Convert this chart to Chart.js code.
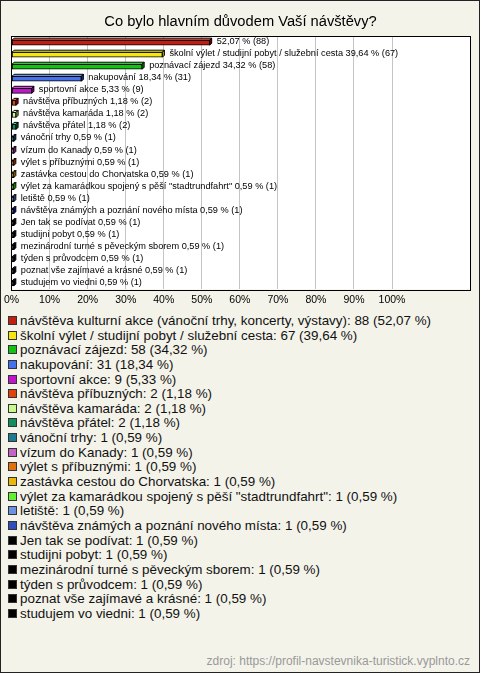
<!DOCTYPE html>
<html>
<head>
<meta charset="utf-8">
<script src="https://cdn.jsdelivr.net/npm/chart.js@4.4.0/dist/chart.umd.min.js"></script>
<style>
  html, body { margin: 0; padding: 0; background: #fff; }
  #frame {
    position: relative; width: 478px; height: 671px;
    border: 1px solid #222; background: #f4f3ea;
    font-family: "Liberation Sans", Arial, sans-serif;
  }
  #chartBox { position: absolute; left: -1px; top: -1px; width: 480px; height: 310px; }
  #legend { position: absolute; left: 7px; top: 313px; }
  .item { height: 14.65px; line-height: 14.65px; font-size: 13.4px; color: #111; white-space: nowrap; }
  .sw { display: inline-block; width: 7px; height: 7px; border: 1px solid #333; margin-right: 3px; vertical-align: 0px; }
  #source { position: absolute; right: 9px; top: 653px; font-size: 12px; color: #999; }
</style>
</head>
<body>
<div id="frame">
  <div id="chartBox"><canvas id="chart" width="480" height="310"></canvas></div>
  <div id="legend"></div>
  <div id="source">zdroj: https://profil-navstevnika-turistick.vyplnto.cz</div>
</div>
<script>
const chartTitle = 'Co bylo hlavním důvodem Vaší návštěvy?';

const categories = [
  'návštěva kulturní akce (vánoční trhy, koncerty, výstavy)',
  'školní výlet / studijní pobyt / služební cesta',
  'poznávací zájezd',
  'nakupování',
  'sportovní akce',
  'návštěva příbuzných',
  'návštěva kamaráda',
  'návštěva přátel',
  'vánoční trhy',
  'vízum do Kanady',
  'výlet s příbuznými',
  'zastávka cestou do Chorvatska',
  'výlet za kamarádkou spojený s pěší "stadtrundfahrt"',
  'letiště',
  'návštěva známých a poznání nového místa',
  'Jen tak se podívat',
  'studijni pobyt',
  'mezinárodní turné s pěveckým sborem',
  'týden s průvodcem',
  'poznat vše zajímavé a krásné',
  'studujem vo viedni'
];
const counts = [88, 67, 58, 31, 9, 2, 2, 2, 1, 1, 1, 1, 1, 1, 1, 1, 1, 1, 1, 1, 1];
const percents = [52.07, 39.64, 34.32, 18.34, 5.33, 1.18, 1.18, 1.18, 0.59, 0.59, 0.59, 0.59, 0.59, 0.59, 0.59, 0.59, 0.59, 0.59, 0.59, 0.59, 0.59];
const colors = [
  '#c41e10', '#f6e610', '#14c214', '#4472ee', '#c214cc', '#e2430e', '#c8f88e',
  '#10905e', '#1e7a90', '#c462c8', '#e2700e', '#e8b808', '#62f034', '#6a92e0',
  '#2e4ec0', '#000000', '#000000', '#000000', '#000000', '#000000', '#000000'
];
const xTicks = [0, 10, 20, 30, 40, 50, 60, 70, 80, 90, 100];

const fmt = v => v.toFixed(2).replace('.', ',');

function shade(hex, amt) {
  const n = parseInt(hex.slice(1), 16);
  const c = v => Math.max(0, Math.min(255, v + amt));
  return `rgb(${c(n >> 16)},${c((n >> 8) & 255)},${c(n & 255)})`;
}

// frame + white plot background
const plotFrame = {
  id: 'plotFrame',
  beforeDraw(chart) {
    const { ctx, chartArea: a } = chart;
    ctx.save();
    ctx.fillStyle = '#fff';
    ctx.fillRect(a.left, a.top, a.right - a.left, a.bottom - a.top);
    ctx.restore();
  },
  afterDraw(chart) {
    const { ctx, chartArea: a } = chart;
    ctx.save();
    ctx.strokeStyle = '#000';
    ctx.lineWidth = 1;
    ctx.strokeRect(Math.round(a.left) - 0.5, Math.round(a.top) - 0.5, Math.round(a.right - a.left) + 1, Math.round(a.bottom - a.top) + 1);
    ctx.restore();
  }
};

// 3d top/side of bars + value labels
const barDecor = {
  id: 'barDecor',
  afterDatasetsDraw(chart) {
    const { ctx, chartArea: a } = chart;
    const meta = chart.getDatasetMeta(0);
    const d = 2;
    ctx.save();
    ctx.lineWidth = 1;
    ctx.strokeStyle = '#000';
    meta.data.forEach((bar, i) => {
      const top = bar.y - bar.height / 2, bottom = bar.y + bar.height / 2;
      ctx.beginPath();
      ctx.moveTo(bar.base, top); ctx.lineTo(bar.base + d, top - d);
      ctx.lineTo(bar.x + d, top - d); ctx.lineTo(bar.x, top); ctx.closePath();
      ctx.fillStyle = shade(colors[i], 80);
      ctx.fill(); ctx.stroke();
      ctx.beginPath();
      ctx.moveTo(bar.x, top); ctx.lineTo(bar.x + d, top - d);
      ctx.lineTo(bar.x + d, bottom - d); ctx.lineTo(bar.x, bottom); ctx.closePath();
      ctx.fillStyle = shade(colors[i], -60);
      ctx.fill(); ctx.stroke();
    });
    ctx.font = '9.2px "Liberation Sans", Arial, sans-serif';
    ctx.textBaseline = 'middle';
    ctx.fillStyle = '#000';
    meta.data.forEach((bar, i) => {
      const value = fmt(percents[i]) + ' % (' + counts[i] + ')';
      const x = bar.x + d + 5;
      let text = categories[i] + ' ' + value;
      if (x + ctx.measureText(text).width > a.right - 2) text = value;
      ctx.fillText(text, x, bar.y - 1);
    });
    ctx.restore();
  }
};

new Chart(document.getElementById('chart'), {
  type: 'bar',
  data: {
    labels: categories,
    datasets: [{
      data: percents,
      backgroundColor: colors,
      borderColor: '#000',
      borderWidth: 1,
      borderSkipped: false,
      barThickness: 5
    }]
  },
  options: {
    indexAxis: 'y',
    responsive: false,
    animation: false,
    events: [],
    layout: { padding: { left: 11, right: 10, bottom: 0 } },
    plugins: {
      legend: { display: false },
      tooltip: { enabled: false },
      title: {
        display: true,
        text: chartTitle,
        color: '#000',
        font: { size: 14.7, family: '"Liberation Sans", Arial, sans-serif', weight: 'normal' },
        padding: { top: 13, bottom: 6 }
      }
    },
    scales: {
      x: {
        min: 0,
        max: 120.5,
        afterBuildTicks: axis => { axis.ticks = xTicks.map(v => ({ value: v })); },
        ticks: {
          color: '#000',
          padding: 4,
          maxRotation: 0,
          font: { size: 10.5, family: '"Liberation Sans", Arial, sans-serif' },
          callback: v => v + '%'
        },
        grid: { color: '#c4c4c4', drawTicks: false },
        border: { display: false }
      },
      y: {
        display: false,
        grid: { display: false }
      }
    }
  },
  plugins: [plotFrame, barDecor]
});

const legend = document.getElementById('legend');
categories.forEach((name, i) => {
  const row = document.createElement('div');
  row.className = 'item';
  row.innerHTML = `<span class="sw" style="background:${colors[i]}"></span>${name}: ${counts[i]} (${fmt(percents[i])} %)`;
  legend.appendChild(row);
});
</script>
</body>
</html>
